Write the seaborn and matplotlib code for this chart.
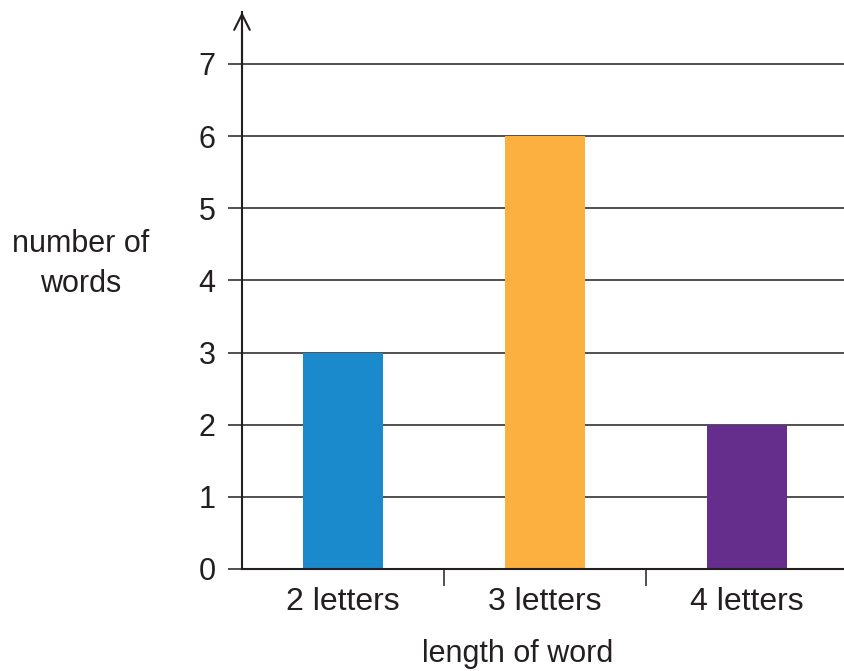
import matplotlib
matplotlib.use("Agg")
import matplotlib.pyplot as plt
import seaborn as sns
from matplotlib.ticker import FixedLocator

# ---------- Data ----------
categories = ["2 letters", "3 letters", "4 letters"]
word_counts = [3, 6, 2]
bar_colors = ["#1b8acd", "#fbb040", "#652d8c"]
y_ticks = [0, 1, 2, 3, 4, 5, 6, 7]

INK = "#231f20"


def main() -> int:
    sns.set_style("white")
    plt.rcParams["font.family"] = ["Liberation Sans", "DejaVu Sans"]

    fig = plt.figure(figsize=(8.44, 6.71), dpi=100)
    ax = fig.add_axes([242 / 844, 102 / 671, 602 / 844, 557 / 671])

    sns.barplot(x=categories, y=word_counts, hue=categories, palette=bar_colors,
                legend=False, width=0.4, saturation=1, linewidth=0,
                ax=ax, zorder=3)

    ax.set_xlim(-0.5, 2.48)
    ax.set_ylim(0, 7.72)
    ax.set_yticks(y_ticks)
    for v in y_ticks[1:]:
        ax.axhline(v, color=INK, lw=1.1, zorder=1)

    for side in ["top", "right"]:
        ax.spines[side].set_visible(False)
    for side in ["left", "bottom"]:
        ax.spines[side].set_color(INK)
        ax.spines[side].set_linewidth(1.5)
        ax.spines[side].set_zorder(4)

    ax.tick_params(axis="y", length=10, width=1.1, color=INK, pad=9,
                   labelsize=22, labelcolor=INK, left=True)
    ax.tick_params(axis="x", which="major", length=0, pad=13,
                   labelsize=23, labelcolor=INK)
    ax.xaxis.set_minor_locator(FixedLocator([0.5, 1.5]))
    ax.tick_params(axis="x", which="minor", length=12, width=1.1,
                   color=INK, bottom=True)

    # arrow on the y axis
    ax.annotate("", xy=(0, 1.0), xycoords="axes fraction", xytext=(0, 0.9),
                arrowprops=dict(arrowstyle="->", color=INK, lw=1.5,
                                mutation_scale=28, shrinkA=0, shrinkB=0),
                annotation_clip=False)

    ax.set_xlabel("length of word", fontsize=22, color=INK)
    ax.xaxis.set_label_coords((518 - 242) / 602, -0.125)
    ax.set_ylabel("number of\nwords", fontsize=22, color=INK, rotation=0,
                  ha="center", va="center", linespacing=1.4)
    ax.yaxis.set_label_coords((81 - 242) / 602, (569 - 264) / 557)

    fig.savefig("out.png", dpi=100)
    plt.close(fig)
    return 0


if __name__ == "__main__":
    raise SystemExit(main())
